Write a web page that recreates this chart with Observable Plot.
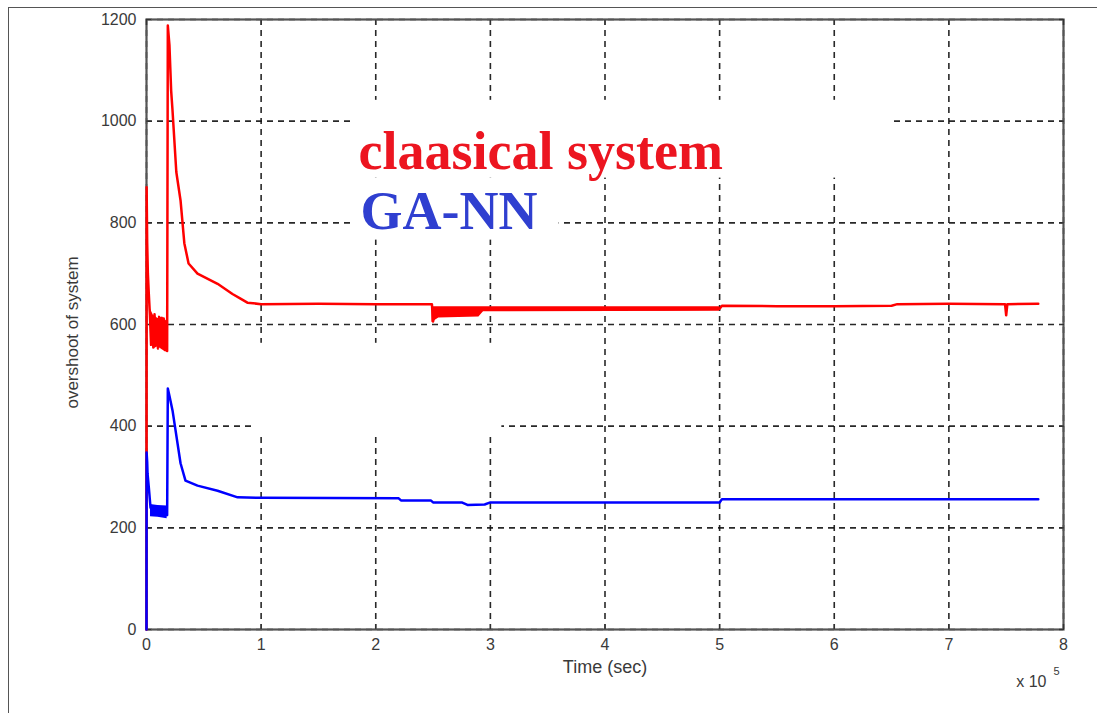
<!DOCTYPE html>
<html><head><meta charset="utf-8">
<script src="https://cdn.jsdelivr.net/npm/d3@7"></script>
<script src="https://cdn.jsdelivr.net/npm/@observablehq/plot@0.6"></script>
<style>
html,body{margin:0;padding:0;background:#fff;}
#wrap{position:relative;width:1097px;height:713px;overflow:hidden;}
#frame{position:absolute;left:8px;top:7px;width:1200px;height:800px;border-top:1.5px solid #555;border-left:1.5px solid #555;pointer-events:none;}
#chart{position:absolute;left:0;top:0;}
</style></head><body>
<div id="wrap"><div id="chart"></div><div id="frame"></div></div>
<script>
// tick values
const xTicks = [0, 1, 2, 3, 4, 5, 6, 7, 8];
const yTicks = [0, 200, 400, 600, 800, 1000, 1200];
const seriesNames = ["claasical system", "GA-NN"];
const seriesColors = ["#ff0000", "#0000ff"];

// classical system (time in units of 10^5 s)
const classicalT = [0, 0.001, 0.006, 0.012, 0.02, 0.03, 0.04, 0.05, 0.06, 0.07, 0.08, 0.09, 0.10, 0.11, 0.12, 0.13, 0.14, 0.15, 0.16, 0.17, 0.18, 0.186, 0.2, 0.215, 0.227, 0.26, 0.297, 0.33, 0.367, 0.445, 0.62, 0.75, 0.82, 0.88, 1.0, 1.5, 2.0, 2.49, 2.5, 2.52, 2.7, 2.9, 2.95, 3.0, 3.5, 4.0, 4.5, 5.0, 5.02, 5.5, 6.0, 6.5, 6.55, 7.0, 7.49, 7.5, 7.51, 7.78];
const classicalV = [0, 870, 760, 700, 661, 618, 560, 612, 555, 620, 565, 610, 553, 615, 560, 605, 556, 612, 550, 600, 548, 1188, 1150, 1060, 1021, 900, 844, 760, 720, 700, 680, 660, 651, 643, 640, 641, 640, 640, 606, 628, 626, 627, 630, 631, 630, 631, 630, 631, 637, 636, 636, 637, 640, 641, 640, 618, 640, 641];

// GA-NN
const gannT = [0, 0.001, 0.006, 0.009, 0.02, 0.035, 0.06, 0.09, 0.12, 0.15, 0.18, 0.186, 0.2, 0.227, 0.297, 0.34, 0.445, 0.62, 0.795, 1.0, 2.2, 2.22, 2.48, 2.5, 2.75, 2.8, 2.95, 3.0, 5.0, 5.02, 7.78];
const gannV = [0, 348, 330, 307, 280, 240, 228, 236, 226, 234, 225, 474, 460, 431, 327, 293, 283, 273, 260, 259, 258, 254, 254, 250, 250, 245, 246, 250, 250, 256, 256];

// noise envelopes (low / high) of the oscillating stretches
const bandSeries = ["claasical system", "claasical system", "claasical system", "claasical system", "claasical system",
                    "claasical system late", "claasical system late", "claasical system late", "claasical system late", "claasical system late",
                    "GA-NN", "GA-NN", "GA-NN"];
const bandT  = [0.035, 0.06, 0.10, 0.14, 0.18,   2.49, 2.55, 2.9, 2.94, 5.0,   0.035, 0.1, 0.18];
const bandLo = [575, 552, 556, 550, 545,         604, 613, 615, 625, 626,     222, 221, 218];
const bandHi = [630, 618, 612, 615, 606,         635, 635, 635, 635, 635,     246, 244, 243];

// areas of the original figure where the grid is not drawn (data units)
const gapX1 = [1.8, 1.8, 0.95];
const gapX2 = [6.5, 3.6, 3.1];
const gapY1 = [888, 766, 378];
const gapY2 = [1041, 888, 563];

const lineData = [
  ...classicalT.map((t, i) => ({series: seriesNames[0], t, v: classicalV[i]})),
  ...gannT.map((t, i) => ({series: seriesNames[1], t, v: gannV[i]}))
];
const bandData = bandT.map((t, i) => ({series: bandSeries[i], t, lo: bandLo[i], hi: bandHi[i],
  color: bandSeries[i].startsWith("GA") ? seriesColors[1] : seriesColors[0]}));
const gapData = gapX1.map((x1, i) => ({x1, x2: gapX2[i], y1: gapY1[i], y2: gapY2[i]}));

const tickColor = "#3a3a3a";
const font = "'Liberation Sans', Arial, sans-serif";
const noLabel = () => "";

const chart = Plot.plot({
  width: 1097, height: 713,
  marginLeft: 146, marginRight: 34, marginTop: 19, marginBottom: 84,
  style: {fontFamily: font, background: "transparent", overflow: "visible"},
  x: {domain: [0, 8]},
  y: {domain: [0, 1200]},
  color: {domain: seriesNames, range: seriesColors},
  marks: [
    Plot.gridX(xTicks, {stroke: "#111", strokeOpacity: 0.9, strokeWidth: 1.6, strokeDasharray: "6,5"}),
    Plot.gridY(yTicks, {stroke: "#111", strokeOpacity: 0.9, strokeWidth: 1.6, strokeDasharray: "6,5"}),
    Plot.rect(gapData, {x1: "x1", x2: "x2", y1: "y1", y2: "y2", fill: "white"}),
    Plot.frame({stroke: "#555", strokeWidth: 2.2}),
    Plot.axisX({anchor: "bottom", ticks: xTicks, tickSize: -5, tickPadding: 14, tickFormat: d => `${d}`, fontSize: 16, fill: tickColor, stroke: "#333", label: null}),
    Plot.axisX({anchor: "top", ticks: xTicks, tickSize: -5, tickFormat: noLabel, stroke: "#333", label: null}),
    Plot.axisY({anchor: "left", ticks: yTicks, tickSize: -5, tickPadding: 15, tickFormat: d => `${d}`, fontSize: 16, fill: tickColor, stroke: "#333", label: null}),
    Plot.axisY({anchor: "right", ticks: yTicks, tickSize: -5, tickFormat: noLabel, stroke: "#333", label: null}),
    Plot.areaY(bandData, {x: "t", y1: "lo", y2: "hi", z: "series", fill: "color", fillOpacity: 1}),
    Plot.line(lineData, {x: "t", y: "v", z: "series", stroke: "series", strokeWidth: 2.5, curve: "linear"}),
    Plot.text(["Time (sec)"], {frameAnchor: "bottom", dy: 43, fontSize: 18, fill: tickColor}),
    Plot.text(["overshoot of system"], {frameAnchor: "left", textAnchor: "middle", dx: -74, dy: 8, rotate: -90, fontSize: 17, fill: tickColor}),
    Plot.text(["x 10"], {frameAnchor: "bottom-right", dx: -17, dy: 57, fontSize: 16, fill: tickColor}),
    Plot.text(["5"], {frameAnchor: "bottom-right", dx: -4, dy: 45, fontSize: 11, fill: tickColor}),
    Plot.text([seriesNames[0]], {frameAnchor: "top-left", dx: 212, dy: 149, lineAnchor: "bottom", textAnchor: "start",
      fontSize: 54, fontWeight: "bold", fontFamily: "'Liberation Serif', 'Times New Roman', serif", fill: "#ec1520"}),
    Plot.text([seriesNames[1]], {frameAnchor: "top-left", dx: 214, dy: 209, lineAnchor: "bottom", textAnchor: "start",
      fontSize: 54, fontWeight: "bold", fontFamily: "'Liberation Serif', 'Times New Roman', serif", fill: "#2f3fd0"})
  ]
});
document.getElementById("chart").appendChild(chart);
</script>
</body></html>
